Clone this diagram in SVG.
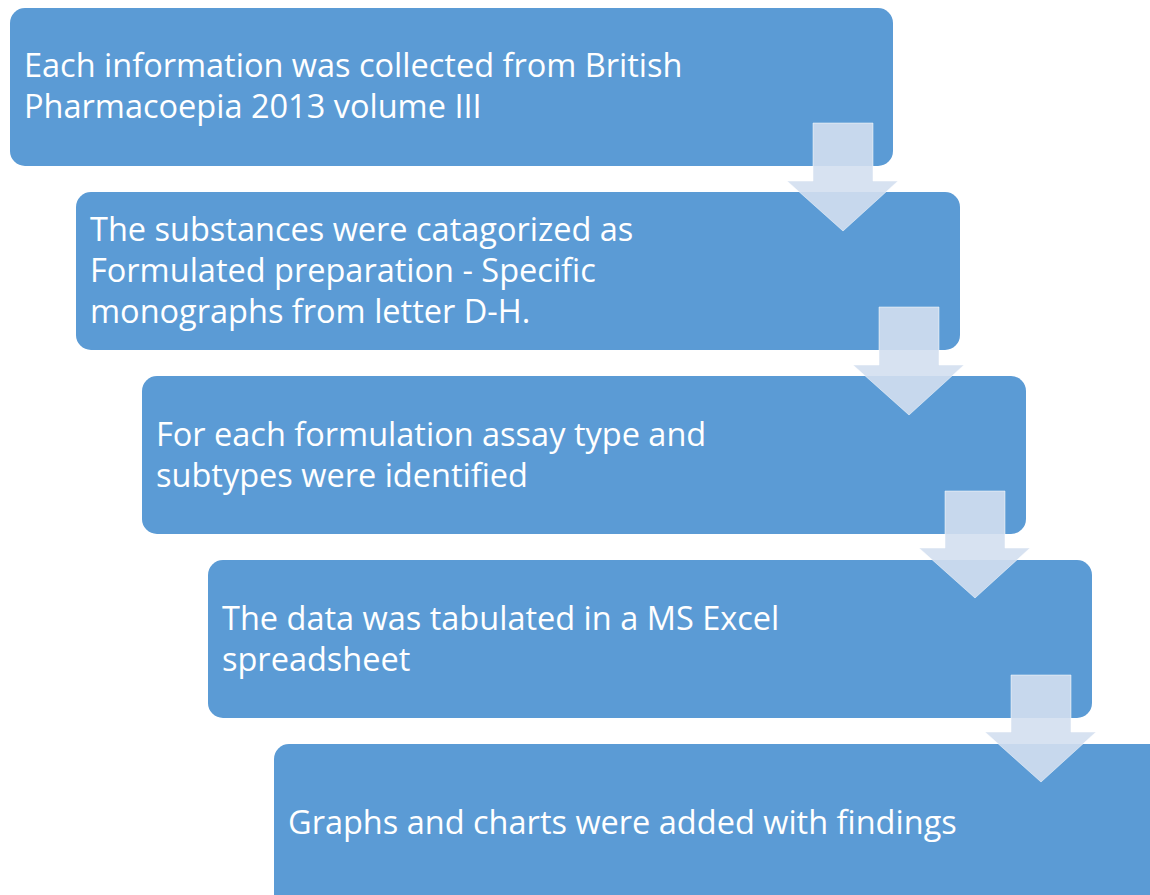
<svg xmlns="http://www.w3.org/2000/svg" width="1150" height="895" viewBox="0 0 1150 895">
<style>
.box{fill:#5B9BD5;}
.t{font-family:"Open Sans","Liberation Sans",sans-serif;font-size:32.5px;fill:#FFFFFF;}
.arr{fill:#D3DFEF;fill-opacity:0.9;stroke:#FFFFFF;stroke-opacity:0.5;stroke-width:1;}
</style>
<rect width="1150" height="895" fill="#FFFFFF"/>
<g id="node1"><rect class="box" x="10" y="8" width="883" height="158" rx="15"/>
<text class="t" x="24" y="77">Each information was collected from British</text>
<text class="t" x="24" y="118">Pharmacoepia 2013 volume III</text></g>
<g id="node2"><rect class="box" x="76" y="192" width="884" height="158" rx="15"/>
<text class="t" x="90" y="241">The substances were catagorized as</text>
<text class="t" x="90" y="282">Formulated preparation - Specific</text>
<text class="t" x="90" y="323">monographs from letter D-H.</text></g>
<g id="node3"><rect class="box" x="142" y="376" width="884" height="158" rx="15"/>
<text class="t" x="156" y="446">For each formulation assay type and</text>
<text class="t" x="156" y="487">subtypes were identified</text></g>
<g id="node4"><rect class="box" x="208" y="560" width="884" height="158" rx="15"/>
<text class="t" x="222" y="630">The data was tabulated in a MS Excel</text>
<text class="t" x="222" y="671">spreadsheet</text></g>
<g id="node5"><rect class="box" x="274" y="744" width="900" height="170" rx="15"/>
<text class="t" x="288" y="834">Graphs and charts were added with findings</text></g>
<g id="connectors">
<polygon class="arr" points="813,123 873,123 873,181 898,181 843,231 787,181 813,181"/>
<polygon class="arr" points="879,307 939,307 939,365 964,365 909,415 853,365 879,365"/>
<polygon class="arr" points="945,491 1005,491 1005,548 1030,548 975,598 919,548 945,548"/>
<polygon class="arr" points="1011,675 1071,675 1071,732 1096,732 1041,782 985,732 1011,732"/>
</g>
</svg>
